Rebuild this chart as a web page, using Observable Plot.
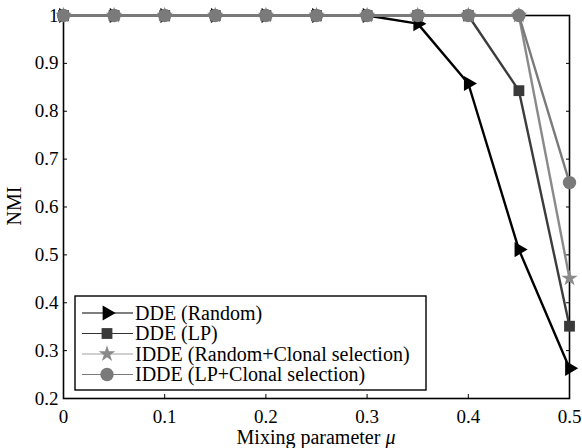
<!DOCTYPE html>
<html>
<head>
<meta charset="utf-8">
<script src="https://cdn.jsdelivr.net/npm/d3@7"></script>
<script src="https://cdn.jsdelivr.net/npm/@observablehq/plot@0.6"></script>
<style>
  html, body { margin: 0; padding: 0; background: #fff; }
  #chart { position: relative; width: 582px; height: 448px; }
  #chart svg, #chart svg text, #chart svg tspan { font-family: "Liberation Serif", "Times New Roman", serif !important; }
  #chart svg g[aria-label$="tick label"] text { font-size: 19px !important; }
</style>
</head>
<body>
<div id="chart"></div>
<script>
// ---- data ----
const mu = [0, 0.05, 0.1, 0.15, 0.2, 0.25, 0.3, 0.35, 0.4, 0.45, 0.5];
const ddeRandom  = [1, 1, 1, 1, 1, 1, 1, 0.983, 0.858, 0.511, 0.263];
const ddeLP      = [1, 1, 1, 1, 1, 1, 1, 1, 1, 0.843, 0.351];
const iddeRandom = [1, 1, 1, 1, 1, 1, 1, 1, 1, 1, 0.451];
const iddeLP     = [1, 1, 1, 1, 1, 1, 1, 1, 1, 1, 0.651];
const seriesNames = ["DDE (Random)", "DDE (LP)", "IDDE (Random+Clonal selection)", "IDDE (LP+Clonal selection)"];
const xTicks = [0, 0.1, 0.2, 0.3, 0.4, 0.5];
const yTicks = [0.2, 0.3, 0.4, 0.5, 0.6, 0.7, 0.8, 0.9, 1];
const xTitle = "Mixing parameter ";
const xTitleSymbol = "μ";
const yTitle = "NMI";

// ---- styles ----
const styles = [
  {line: "#000000", lineW: 2.4, fill: "#000000", symbol: "triangle", rotate: 90, r: 5.6, legLine: "#000000"},
  {line: "#3c3c3c", lineW: 2.4, fill: "#3a3a3a", symbol: "square", rotate: 0, r: 6.1, legLine: "#333333"},
  {line: "#8a8a8a", lineW: 2.4, fill: "#8a8a8a", symbol: "star", rotate: 0, r: 5.2, legLine: "#a0a0a0"},
  {line: "#7a7a7a", lineW: 2.4, fill: "#7a7a7a", symbol: "circle", rotate: 0, r: 6.7, legLine: "#7a7a7a"}
];
const allValues = [ddeRandom, ddeLP, iddeRandom, iddeLP];
const tables = allValues.map(vals => mu.map((m, i) => ({x: m, y: vals[i]})));

const fmt = d => String(+d.toFixed(2));
const font = "Liberation Serif, Times New Roman, serif";

const marks = [];
tables.forEach((t, k) => {
  const s = styles[k];
  marks.push(Plot.line(t, {x: "x", y: "y", stroke: s.line, strokeWidth: s.lineW}));
  marks.push(Plot.dot(t, {x: "x", y: "y", symbol: () => s.symbol, r: s.r, fill: s.fill, stroke: "none", rotate: s.rotate}));
});

const chart = Plot.plot({
  width: 582,
  height: 448,
  marginLeft: 63,
  marginRight: 13,
  marginTop: 15,
  marginBottom: 50,
  style: {background: "#fff", color: "#000", overflow: "visible"},
  x: {domain: [0, 0.5]},
  y: {domain: [0.2, 1]},
  symbol: {type: "identity"},
  marks: [
    Plot.frame({stroke: "#000", strokeWidth: 1.6}),
    Plot.axisY({anchor: "left", ticks: yTicks, tickSize: -4, tickPadding: 9, tickFormat: fmt, label: null, fontSize: 19}),
    Plot.axisY({anchor: "right", ticks: yTicks, tickSize: -4, tickFormat: () => "", label: null}),
    Plot.axisX({anchor: "bottom", ticks: xTicks, tickSize: -4, tickPadding: 15, tickFormat: fmt, label: null, fontSize: 19}),
    Plot.axisX({anchor: "top", ticks: xTicks, tickSize: -4, tickFormat: () => "", label: null}),
    ...marks
  ]
});

document.getElementById("chart").appendChild(chart);

// ---- titles and legend (layout elements) ----
const svg = d3.select(chart);

const xt = svg.append("text")
  .attr("x", 316).attr("y", 444)
  .attr("text-anchor", "middle")
  .attr("font-size", 20).attr("fill", "#000");
xt.append("tspan").text(xTitle);
xt.append("tspan").attr("font-style", "italic").text(xTitleSymbol);

svg.append("text")
  .attr("transform", "translate(21,206) rotate(-90)")
  .attr("text-anchor", "middle")
  .attr("font-size", 20).attr("fill", "#000")
  .text(yTitle);

const leg = svg.append("g");
leg.append("rect")
  .attr("x", 75).attr("y", 296).attr("width", 351).attr("height", 94)
  .attr("fill", "#fff").attr("stroke", "#000").attr("stroke-width", 1.4);

const symMap = {triangle: d3.symbolTriangle, square: d3.symbolSquare, star: d3.symbolStar, circle: d3.symbolCircle};
seriesNames.forEach((name, i) => {
  const s = styles[i];
  const cy = 313 + i * 20.5;
  leg.append("line")
    .attr("x1", 82).attr("x2", 133).attr("y1", cy).attr("y2", cy)
    .attr("stroke", s.legLine).attr("stroke-width", 1.1);
  leg.append("path")
    .attr("d", d3.symbol(symMap[s.symbol], Math.PI * s.r * s.r)())
    .attr("transform", `translate(107,${cy}) rotate(${s.rotate})`)
    .attr("fill", s.fill);
  leg.append("text")
    .attr("x", 135).attr("y", cy)
    .attr("dy", "0.33em")
    .attr("text-anchor", "start")
    .attr("font-size", 20).attr("fill", "#000")
    .text(name);
});
</script>
</body>
</html>
